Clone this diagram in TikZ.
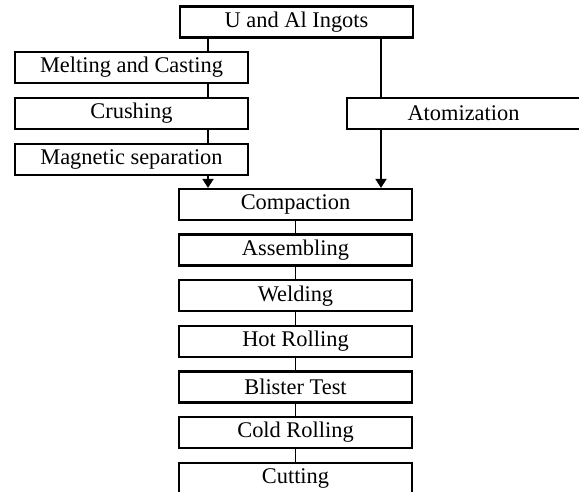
\documentclass[tikz,border=0pt]{standalone}
\usepackage{fontspec}
\setmainfont{Liberation Serif}
\usetikzlibrary{arrows.meta}

\begin{document}
\begin{tikzpicture}[
    x = 0.5pt, y = -0.5pt,
    font = \fontsize{11.2}{13}\selectfont,
    stage/.style = {draw, line width=1.1pt, minimum width=116.5pt, minimum height=15.5pt, inner sep=0pt},
    link/.style = {line width=0.9pt},
    flow/.style = {line width=0.9pt, -{Triangle[length=4.5pt, width=5.5pt]}}
]

\clip (0, 0) rectangle (579, 492);
\fill[white] (0, 0) rectangle (579, 492);

% branch lines
\coordinate (lx) at (208, 0);
\coordinate (rx) at (381, 0);

\node[stage] (ingots) at (296.5, 22) {U and Al Ingots};

\node[stage] (melt)   at (131.5, 67.5)  {Melting and Casting};
\node[stage] (crush)  at (131.5, 113.5) {Crushing};
\node[stage] (magsep) at (131.5, 159.5) {Magnetic separation};

\node[stage] (atom) at (463.5, 113.5) {Atomization};

\node[stage] (compact)  at (295.5, 204.5) {Compaction};
\node[stage] (assemble) at (295.5, 250.1) {Assembling};
\node[stage] (weld)     at (295.5, 295.7) {Welding};
\node[stage] (hotroll)  at (295.5, 341.3) {Hot Rolling};
\node[stage] (blister)  at (295.5, 386.9) {Blister Test};
\node[stage] (coldroll) at (295.5, 432.5) {Cold Rolling};
\node[stage] (cut)      at (295.5, 478.1) {Cutting};

\draw[link] (ingots.south -| lx) -- (melt.north -| lx);
\draw[link] (melt.south -| lx) -- (crush.north -| lx);
\draw[link] (crush.south -| lx) -- (magsep.north -| lx);
\draw[flow] (magsep.south -| lx) -- (compact.north -| lx);

\draw[link] (ingots.south -| rx) -- (atom.north -| rx);
\draw[flow] (atom.south -| rx) -- (compact.north -| rx);

\draw[link] (compact.south) -- (assemble.north);
\draw[link] (assemble.south) -- (weld.north);
\draw[link] (weld.south) -- (hotroll.north);
\draw[link] (hotroll.south) -- (blister.north);
\draw[link] (blister.south) -- (coldroll.north);
\draw[link] (coldroll.south) -- (cut.north);

\end{tikzpicture}
\end{document}
